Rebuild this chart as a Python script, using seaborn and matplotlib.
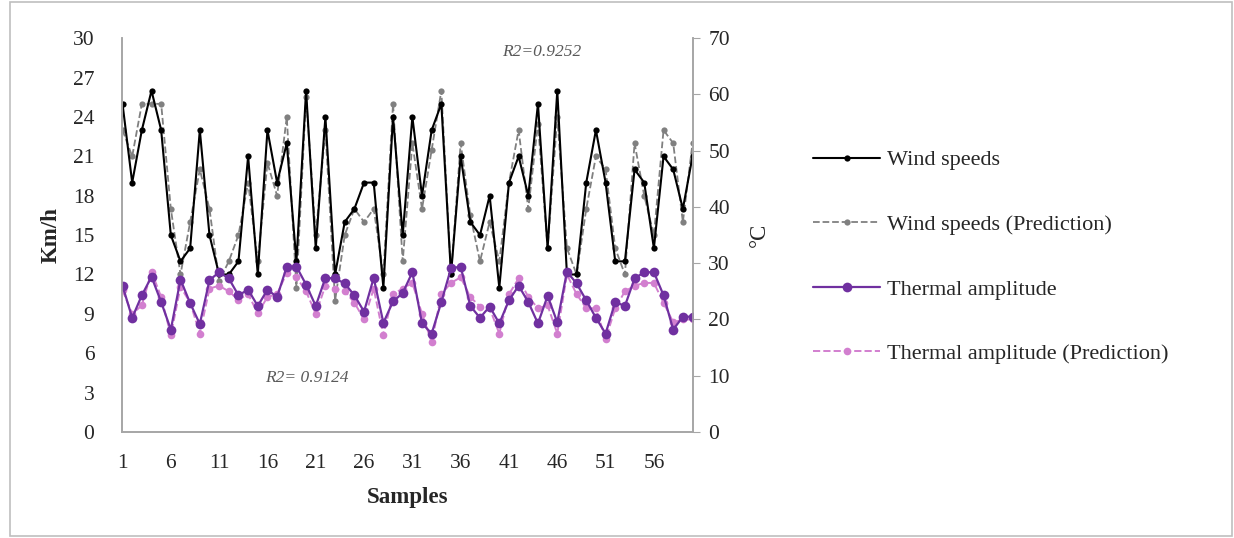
import numpy as np
import pandas as pd
import matplotlib
matplotlib.use("Agg")
import matplotlib.pyplot as plt
import seaborn as sns
from matplotlib.patches import Rectangle

samples = list(range(1, 61))

wind_speeds = [25, 19, 23, 26, 23, 15, 13, 14, 23, 15,
               12, 12, 13, 21, 12, 23, 19, 22, 13, 26,
               14, 24, 12, 16, 17, 19, 19, 11, 24, 15,
               24, 18, 23, 25, 12, 21, 16, 15, 18, 11,
               19, 21, 18, 25, 14, 26, 12, 12, 19, 23,
               19, 13, 13, 20, 19, 14, 21, 20, 17, 21]

wind_pred = [23, 21, 25, 25, 25, 17, 12, 16, 20, 17,
             11.5, 13, 15, 19, 13, 20.5, 18, 24, 11, 25.5,
             15, 23, 10, 15, 17, 16, 17, 12, 25, 13,
             22, 17, 21.5, 26, 12, 22, 16.5, 13, 16, 13,
             19, 23, 17, 23.5, 14, 24, 14, 12, 17, 21,
             20, 14, 12, 22, 18, 15, 23, 22, 16, 22]

thermal = [26, 20.3, 24.3, 27.6, 23.1, 18.2, 27.1, 22.9, 19.2, 27,
           28.4, 27.3, 24.3, 25.3, 22.4, 25.3, 24, 29.4, 29.4, 26.2,
           22.4, 27.4, 27.3, 26.4, 24.3, 21.4, 27.4, 19.4, 23.2, 24.7,
           28.4, 19.3, 17.5, 23.1, 29.1, 29.4, 22.4, 20.3, 22.3, 19.3,
           23.4, 26, 23.1, 19.3, 24.2, 19.5, 28.5, 26.4, 23.4, 20.3,
           17.5, 23.1, 22.4, 27.3, 28.4, 28.4, 24.3, 18.2, 20.5, 20.5]

thermal_pred = [25.2, 21, 22.5, 28.5, 24, 17.2, 25.8, 23, 17.5, 25.5,
                26, 25, 23.5, 24.5, 21.1, 24, 24.5, 28.3, 27.5, 25,
                21, 26, 25.5, 25, 23, 20, 25.5, 17.2, 24.5, 25.5,
                26.5, 21, 16, 24.5, 26.5, 27.5, 24, 22.3, 22, 17.5,
                24.5, 27.3, 24, 22, 22.5, 17.5, 28, 24.5, 22, 22,
                16.5, 22, 25, 26, 26.5, 26.5, 23, 19.5, 20, 20]

xtick_vals = list(range(1, 60, 5))
left_ticks = list(range(0, 31, 3))
right_ticks = list(range(0, 71, 10))

labels = ["Wind speeds", "Wind speeds (Prediction)",
          "Thermal amplitude", "Thermal amplitude (Prediction)"]

df = pd.DataFrame({"Samples": samples, "wind": wind_speeds, "wind_pred": wind_pred,
                   "thermal": thermal, "thermal_pred": thermal_pred})

sns.set_style("white")
plt.rcParams["font.family"] = ["Liberation Serif", "DejaVu Serif"]

fig = plt.figure(figsize=(12.34, 5.38), dpi=100)
ax = fig.add_axes([0.0989, 0.197, 0.4627, 0.732])
ax2 = ax.twinx()

txt_col = "#262626"
c_black = "#000000"
c_gray = "#808080"
c_purple = "#7030a0"
c_pink = "#d27fcf"

sns.lineplot(data=df, x="Samples", y="wind_pred", ax=ax, color=c_gray, linestyle="--",
             linewidth=1.3, marker="o", markersize=4.5, markeredgewidth=0, label=labels[1])
sns.lineplot(data=df, x="Samples", y="wind", ax=ax, color=c_black, linewidth=1.5,
             marker="o", markersize=4.5, markeredgewidth=0, label=labels[0])
sns.lineplot(data=df, x="Samples", y="thermal_pred", ax=ax2, color=c_pink, linestyle="--",
             linewidth=1.4, marker="o", markersize=5.5, markeredgewidth=0, label=labels[3])
sns.lineplot(data=df, x="Samples", y="thermal", ax=ax2, color=c_purple, linewidth=1.6,
             marker="o", markersize=7, markeredgewidth=0, label=labels[2])

for a in (ax, ax2):
    if a.get_legend() is not None:
        a.get_legend().remove()

ax.set_xlim(0.95, 60.05)
ax.set_ylim(0, 30)
ax2.set_ylim(0, 70)
ax.set_yticks(left_ticks)
ax2.set_yticks(right_ticks)
ax.set_xticks(xtick_vals)
ax.set_xticklabels([str(v) for v in xtick_vals])

spine_col = "#a6a6a6"
for a in (ax, ax2):
    for s in a.spines.values():
        s.set_color(spine_col)
        s.set_linewidth(1.2)
    a.spines["top"].set_visible(False)

ax.tick_params(axis="y", length=0, labelsize=15.5, colors=txt_col, pad=20)
ax.tick_params(axis="x", length=0, labelsize=15.5, colors=txt_col, pad=16)
ax2.tick_params(axis="y", direction="out", length=5, color=spine_col, labelsize=15.5,
                colors=txt_col, pad=6)
ax2.tick_params(axis="y", color=spine_col)

ax.set_xlabel("Samples", fontsize=16.5, fontweight="bold", color=txt_col, labelpad=10)
ax.set_ylabel("Km/h", fontsize=16.5, fontweight="bold", color=txt_col, labelpad=8)
ax2.set_ylabel("°C", fontsize=16.5, color=txt_col, labelpad=14)

ax.text(0.735, 0.985, "R2=0.9252", transform=ax.transAxes, fontsize=12.5, style="italic",
        color="#595959", ha="center", va="top")
ax.text(0.323, 0.137, "R2= 0.9124", transform=ax.transAxes, fontsize=12.5, style="italic",
        color="#595959", ha="center", va="center")

h1, l1 = ax.get_legend_handles_labels()
h2, l2 = ax2.get_legend_handles_labels()
hd = dict(zip(l1 + l2, h1 + h2))
fig.legend([hd[l] for l in labels], labels, loc="upper left",
           bbox_to_anchor=(0.652, 0.738), frameon=False, fontsize=16,
           handlelength=3.0, handletextpad=0.3, labelspacing=1.98, borderaxespad=0,
           labelcolor=txt_col)

fig.patches.append(Rectangle((0.008, 0.004), 0.99, 0.993, transform=fig.transFigure,
                             fill=False, edgecolor="#bfbfbf", linewidth=1.2))

fig.savefig("out.png", dpi=100)
